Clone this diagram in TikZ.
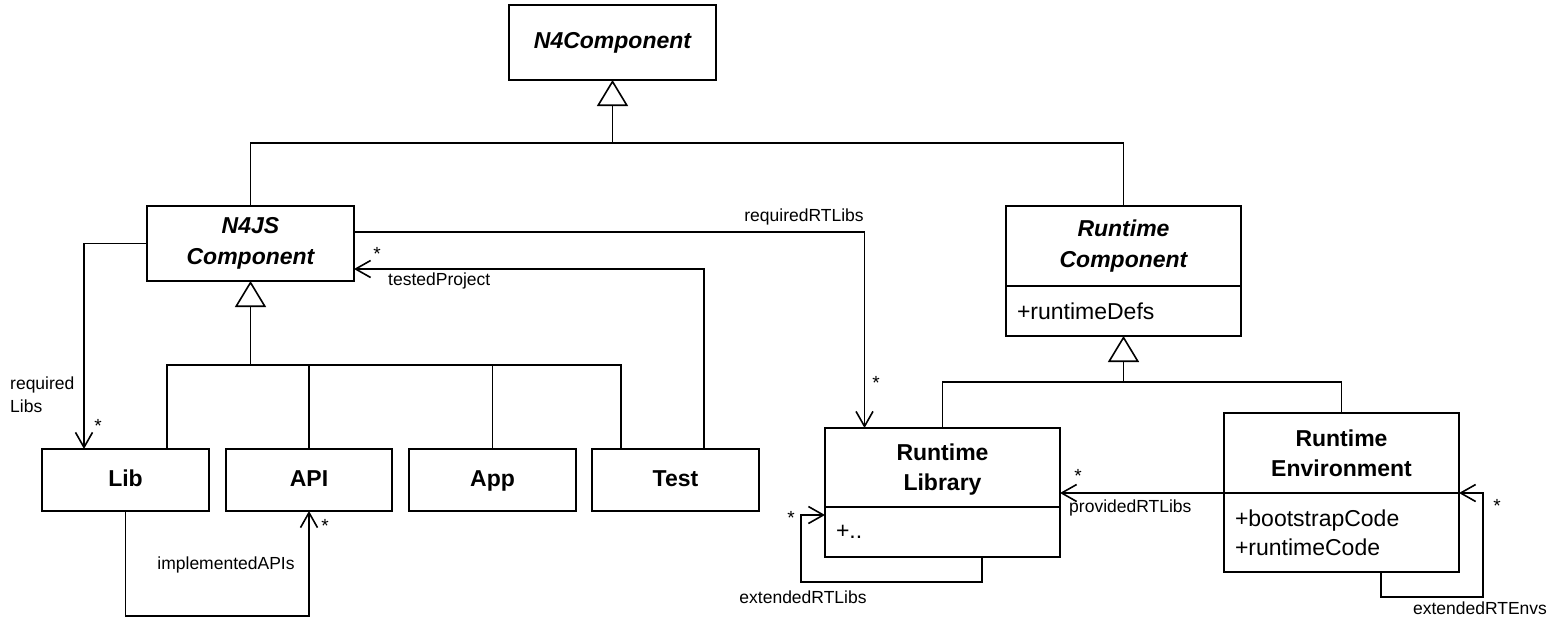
\documentclass[tikz,border=0pt]{standalone}
\usepackage{fontspec}
\setmainfont{Liberation Sans}
\usetikzlibrary{arrows.meta}
\tikzset{
  box/.style={draw, line width=1.6pt, inner sep=0pt, outer sep=0pt, align=center,
    font=\fontsize{23}{30}\selectfont\bfseries},
  sbox/.style={box, text height=17pt, text depth=5pt},
  abox/.style={box, font=\fontsize{23}{30.5}\selectfont\bfseries\itshape},
  attrbox/.style={draw, line width=1.6pt, inner sep=0pt, outer sep=0pt, align=left,
    font=\fontsize{23}{29}\selectfont},
  lbl/.style={inner sep=0pt, font=\fontsize{17.5}{23}\selectfont},
  mult/.style={inner sep=0pt, font=\fontsize{19}{20}\selectfont},
  conn/.style={line width=1.6pt},
  gen/.style={line width=1.6pt, -{Triangle[open, length=26pt, width=31pt, line width=1.6pt]}},
  assoc/.style={line width=1.6pt, -{Straight Barb[length=15pt, width=17pt, line width=1.6pt]}},
}
\begin{document}
\begin{tikzpicture}[x=1pt,y=-1pt]
\useasboundingbox (0,0) rectangle (1565,632);
% classes
\node[abox, minimum width=207pt, minimum height=75pt] (n4c) at (612.5,42.5) {N4Component};
\node[abox, minimum width=207pt, minimum height=75pt] (n4js) at (250.5,243.5) {N4JS\\Component};
\node[sbox, minimum width=167pt, minimum height=62pt] (lib) at (125.5,480) {Lib};
\node[sbox, minimum width=166pt, minimum height=62pt] (api) at (309,480) {API};
\node[sbox, minimum width=167pt, minimum height=62pt] (app) at (492.5,480) {App};
\node[sbox, minimum width=167pt, minimum height=62pt] (test) at (675.5,480) {Test};
\node[abox, minimum width=235pt, minimum height=80pt] (rtc) at (1123.5,246) {Runtime\\Component};
\node[attrbox, minimum width=235pt, minimum height=50pt, text width=213pt] (rtca) at (1123.5,311) {+runtimeDefs};
\node[box, minimum width=235pt, minimum height=79pt, text depth=0pt] (rtl) at (942.5,467.5) {Runtime\\Library};
\node[attrbox, minimum width=235pt, minimum height=50pt, text width=213pt] (rtla) at (942.5,532) {+..};
\node[box, minimum width=235pt, minimum height=80pt] (rte) at (1341.5,453) {Runtime\\Environment};
\node[attrbox, minimum width=235pt, minimum height=79pt, text width=213pt] (rtea) at (1341.5,532.5) {+bootstrapCode\\+runtimeCode};
% generalization junctions
\coordinate (j1) at (612.5,143);
\coordinate (j2) at (250.5,365);
\coordinate (j3) at (1123.5,382);
\draw[conn] (n4js.north) |- (j1);
\draw[conn] (rtc.north) |- (j1);
\draw[gen] (j1) -- (n4c.south);
\draw[conn] ([xshift=41.5pt]lib.north) |- (j2);
\draw[conn] (api.north) |- (j2);
\draw[conn] (app.north) |- (j2);
\draw[conn] ([xshift=-54.5pt]test.north) |- (j2);
\draw[gen] (j2) -- (n4js.south);
\draw[conn] (rtl.north) |- (j3);
\draw[conn] (rte.north) |- (j3);
\draw[gen] (j3) -- (rtca.south);
% associations
\draw[assoc] (n4js.west) -| ([xshift=-41.5pt]lib.north);
\draw[assoc] (lib.south) |- ++(183.5,105) -- (api.south);
\draw[assoc] ([xshift=28.5pt]test.north) |- ([yshift=-25.5pt]n4js.east);
\draw[assoc] ([yshift=11.5pt]n4js.east) -| ([xshift=-78pt]rtl.north);
\draw[assoc] (rtea.north west) -- (rtea.north west -| rtl.east);
\draw[assoc] ([xshift=39.5pt]rtla.south) |- ++(-181,25) |- ([yshift=17pt]rtla.west);
\draw[assoc] ([xshift=39.5pt]rtea.south) |- ++(102,25) |- (rtea.north east);
% labels
\node[lbl, align=left, anchor=west] (lreqlibs) at (10,395) {required\\Libs};
\node[lbl] (limpl) at (226,565) {implementedAPIs};
\node[lbl, anchor=west] (ltested) at (388,281) {testedProject};
\node[lbl] (lreqrt) at (804,217) {requiredRTLibs};
\node[lbl, anchor=west] (lprov) at (1069,508) {providedRTLibs};
\node[lbl] (lextl) at (803,597) {extendedRTLibs};
\node[lbl] (lexte) at (1480,608) {extendedRTEnvs};
% multiplicities
\node[mult] (m1) at (98,426) {*};
\node[mult] (m2) at (325,526) {*};
\node[mult] (m3) at (377,254) {*};
\node[mult] (m4) at (876,383) {*};
\node[mult] (m5) at (1078,476) {*};
\node[mult] (m6) at (791,518) {*};
\node[mult] (m7) at (1497,506) {*};
\end{tikzpicture}
\end{document}
